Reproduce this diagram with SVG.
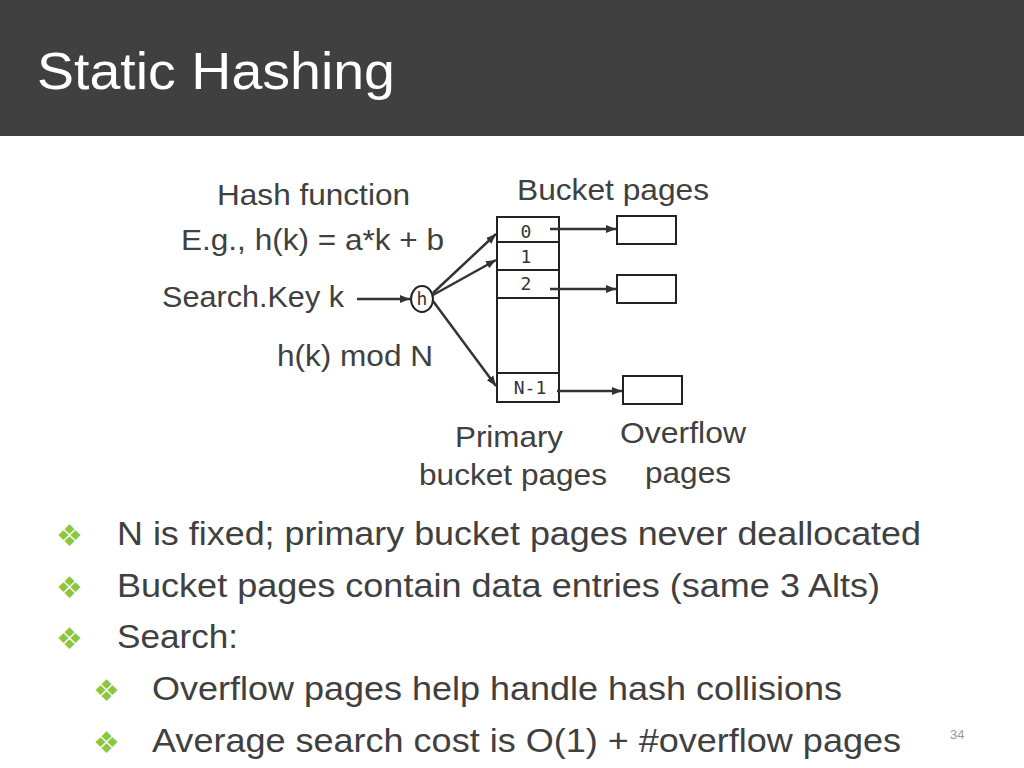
<svg xmlns="http://www.w3.org/2000/svg" width="1024" height="768" viewBox="0 0 1024 768">
<defs>
<style>
.t{font-family:"Liberation Sans",Arial,sans-serif;fill:#404040}
.m{font-family:"DejaVu Sans Mono",monospace;font-size:18px;fill:#333;text-anchor:middle}
.ln{stroke:#333;stroke-width:2.5;fill:none}
.bx{stroke:#222;stroke-width:2;fill:#fff}
.bul{font-family:"DejaVu Sans",sans-serif;fill:#8cc63f;font-size:30px}
</style>
<marker id="ah" viewBox="0 0 10 10" refX="10" refY="5" markerWidth="4" markerHeight="4" orient="auto"><path d="M0,1 L10,5 L0,9 z" fill="#333"/></marker>
</defs>
<rect width="1024" height="768" fill="#fff"/>
<rect width="1024" height="136" fill="#404040"/>
<text x="37" y="89" font-family="Liberation Sans,Arial,sans-serif" font-size="52" fill="#fff" textLength="358" lengthAdjust="spacingAndGlyphs">Static Hashing</text>

<g id="labels">
<text class="t" x="217" y="205" font-size="29" textLength="193" lengthAdjust="spacingAndGlyphs">Hash function</text>
<text class="t" x="181" y="250" font-size="29" textLength="263" lengthAdjust="spacingAndGlyphs">E.g., h(k) = a*k + b</text>
<text class="t" x="162" y="307" font-size="29" textLength="182" lengthAdjust="spacingAndGlyphs">Search.Key k</text>
<text class="t" x="277" y="366" font-size="29" textLength="156" lengthAdjust="spacingAndGlyphs">h(k) mod N</text>
<text class="t" x="517" y="200" font-size="29" textLength="192" lengthAdjust="spacingAndGlyphs">Bucket pages</text>
<text class="t" x="455" y="447" font-size="29" textLength="108" lengthAdjust="spacingAndGlyphs">Primary</text>
<text class="t" x="419" y="485" font-size="29" textLength="188" lengthAdjust="spacingAndGlyphs">bucket pages</text>
<text class="t" x="620" y="443" font-size="29" textLength="126" lengthAdjust="spacingAndGlyphs">Overflow</text>
<text class="t" x="645" y="483" font-size="29" textLength="86" lengthAdjust="spacingAndGlyphs">pages</text>
</g>

<g id="h-node">
<ellipse cx="422" cy="299" rx="11" ry="13" class="bx"/>
<text class="m" x="422" y="305">h</text>
</g>

<g id="buckets">
<rect x="497" y="217" width="62" height="185" class="bx"/>
<line x1="497" y1="242" x2="559" y2="242" stroke="#222" stroke-width="2"/>
<line x1="497" y1="270" x2="559" y2="270" stroke="#222" stroke-width="2"/>
<line x1="497" y1="298" x2="559" y2="298" stroke="#222" stroke-width="2"/>
<line x1="497" y1="373" x2="559" y2="373" stroke="#222" stroke-width="2"/>
<text class="m" x="526" y="238">0</text>
<text class="m" x="526" y="263">1</text>
<text class="m" x="526" y="290">2</text>
<text class="m" x="530" y="394">N-1</text>
</g>

<g id="overflow0"><rect x="617" y="216" width="59" height="28" class="bx"/></g>
<g id="overflow2"><rect x="617" y="275" width="59" height="28" class="bx"/></g>
<g id="overflowN1"><rect x="623" y="376" width="59" height="28" class="bx"/></g>

<g id="connectors">
<line x1="357" y1="299" x2="410" y2="299" class="ln" marker-end="url(#ah)"/>
<line x1="433" y1="293" x2="496" y2="234" class="ln" marker-end="url(#ah)"/>
<line x1="433" y1="295" x2="496" y2="260" class="ln" marker-end="url(#ah)"/>
<line x1="433" y1="301" x2="496" y2="386" class="ln" marker-end="url(#ah)"/>
<line x1="550" y1="229" x2="616" y2="229" class="ln" marker-end="url(#ah)"/>
<line x1="550" y1="289" x2="616" y2="289" class="ln" marker-end="url(#ah)"/>
<line x1="557" y1="391" x2="622" y2="391" class="ln" marker-end="url(#ah)"/>
</g>

<g id="bullets">
<text class="bul" x="56" y="546">❖</text>
<text class="bul" x="56" y="598">❖</text>
<text class="bul" x="56" y="649">❖</text>
<text class="bul" x="93" y="701">❖</text>
<text class="bul" x="93" y="753">❖</text>
<text class="t" x="117" y="545" font-size="34" textLength="804" lengthAdjust="spacingAndGlyphs">N is fixed; primary bucket pages never deallocated</text>
<text class="t" x="117" y="597" font-size="34" textLength="763" lengthAdjust="spacingAndGlyphs">Bucket pages contain data entries (same 3 Alts)</text>
<text class="t" x="117" y="648" font-size="34" textLength="121" lengthAdjust="spacingAndGlyphs">Search:</text>
<text class="t" x="152" y="700" font-size="34" textLength="690" lengthAdjust="spacingAndGlyphs">Overflow pages help handle hash collisions</text>
<text class="t" x="152" y="752" font-size="34" textLength="749" lengthAdjust="spacingAndGlyphs">Average search cost is O(1) + #overflow pages</text>
</g>
<text x="950" y="739" font-family="Liberation Sans,Arial,sans-serif" font-size="13" fill="#999">34</text>
</svg>
